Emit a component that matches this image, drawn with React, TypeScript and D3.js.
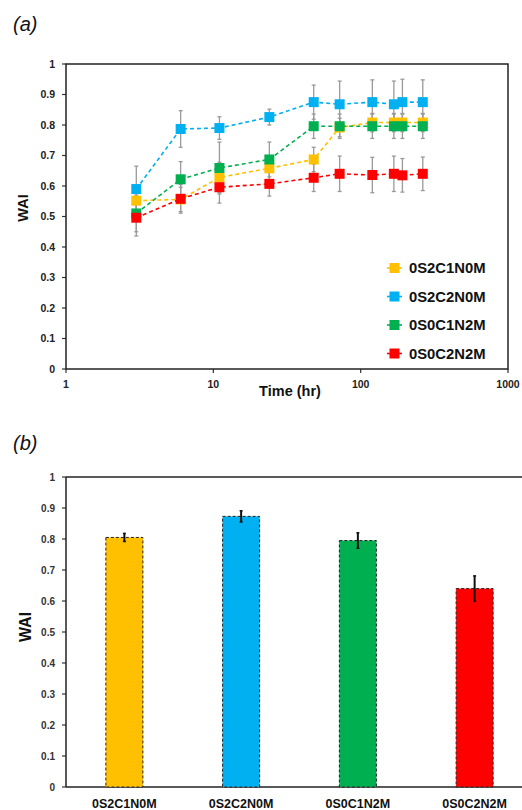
import React from "react";
import * as d3 from "d3";

// Time-course data (hours) for each formulation
const times = [3, 6, 11, 24, 48, 72, 120, 168, 192, 264];
const seriesNames = ["0S2C1N0M", "0S2C2N0M", "0S0C1N2M", "0S0C2N2M"];
const seriesColors = ["#FFC000", "#00B0F0", "#00B050", "#FF0000"];
const wai0S2C1N0M = [0.552, 0.556, 0.628, 0.658, 0.687, 0.792, 0.808, 0.808, 0.808, 0.808];
const wai0S2C2N0M = [0.59, 0.787, 0.79, 0.826, 0.875, 0.868, 0.875, 0.868, 0.875, 0.875];
const wai0S0C1N2M = [0.51, 0.622, 0.659, 0.687, 0.796, 0.796, 0.796, 0.796, 0.796, 0.796];
const wai0S0C2N2M = [0.496, 0.558, 0.596, 0.607, 0.627, 0.64, 0.636, 0.64, 0.635, 0.64];
const err0S2C1N0M = [0.05, 0.04, 0.05, 0.04, 0.04, 0.03, 0.03, 0.03, 0.03, 0.03];
const err0S2C2N0M = [0.075, 0.06, 0.037, 0.026, 0.056, 0.076, 0.073, 0.076, 0.075, 0.073];
const err0S0C1N2M = [0.06, 0.058, 0.085, 0.057, 0.04, 0.04, 0.04, 0.04, 0.04, 0.04];
const err0S0C2N2M = [0.06, 0.047, 0.052, 0.04, 0.045, 0.058, 0.058, 0.058, 0.055, 0.055];

// Final WAI values for the bar panel
const barValues = [0.805, 0.873, 0.795, 0.64];
const barErrors = [0.013, 0.018, 0.025, 0.041];

const yTicks = [0, 0.1, 0.2, 0.3, 0.4, 0.5, 0.6, 0.7, 0.8, 0.9, 1];
const xTicks = [1, 10, 100, 1000];

const FONT = "'Liberation Sans', Arial, sans-serif";

export default function App() {
  const values = [wai0S2C1N0M, wai0S2C2N0M, wai0S0C1N2M, wai0S0C2N2M];
  const errors = [err0S2C1N0M, err0S2C2N0M, err0S0C1N2M, err0S0C2N2M];

  // Panel (a)
  const ax = d3.scaleLog().domain([1, 1000]).range([66, 508]);
  const ay = d3.scaleLinear().domain([0, 1]).range([369, 64]);
  const line = d3
    .line<[number, number]>()
    .x((d) => ax(d[0]))
    .y((d) => ay(d[1]));

  // Panel (b)
  const bx = d3.scaleBand<string>().domain(seriesNames).range([66, 533]).paddingInner(0.683).paddingOuter(0.3415);
  const by = d3.scaleLinear().domain([0, 1]).range([787, 477]);

  const m = 10;

  return (
    <svg
      width={522}
      height={810}
      style={{ position: "absolute", left: 0, top: 0, background: "#fff" }}
      fontFamily={FONT}
    >
      <rect width={522} height={810} fill="#fff" />
      {/* ---------- (a) ---------- */}
      <text x={13} y={31} fontSize={20} fontStyle="italic" fill="#111">(a)</text>

      {yTicks.map((t) => (
        <g key={"ay" + t}>
          <line x1={62} x2={66} y1={ay(t)} y2={ay(t)} stroke="#333" strokeWidth={1.2} />
          <text x={55} y={ay(t) + 3.7} fontSize={10.5} fontWeight="bold" textAnchor="end" fill="#222">
            {t}
          </text>
        </g>
      ))}
      {xTicks.map((t) => (
        <g key={"ax" + t}>
          <line x1={ax(t)} x2={ax(t)} y1={369} y2={373} stroke="#333" strokeWidth={1.2} />
          <text x={ax(t)} y={388} fontSize={10.5} fontWeight="bold" textAnchor="middle" fill="#222">
            {t}
          </text>
        </g>
      ))}
      <rect x={66} y={64} width={442} height={305} fill="none" stroke="#222" strokeWidth={1.5} />
      <text
        transform={`translate(28,208) rotate(-90)`}
        fontSize={14.5}
        fontWeight="bold"
        textAnchor="middle"
        fill="#111"
      >
        WAI
      </text>
      <text x={290} y={396} fontSize={14.5} fontWeight="bold" textAnchor="middle" fill="#111">
        Time (hr)
      </text>

      {/* error bars */}
      {values.map((vals, si) =>
        vals.map((v, i) => {
          const e = errors[si][i];
          const x = ax(times[i]);
          return (
            <g key={`e${si}-${i}`} stroke="#9a9a9a" strokeWidth={1.3}>
              <line x1={x} x2={x} y1={ay(v + e)} y2={ay(v - e)} />
              <line x1={x - 2} x2={x + 2} y1={ay(v + e)} y2={ay(v + e)} />
              <line x1={x - 2} x2={x + 2} y1={ay(v - e)} y2={ay(v - e)} />
            </g>
          );
        })
      )}
      {/* dashed lines and square markers */}
      {values.map((vals, si) => (
        <g key={"s" + si}>
          <path
            d={line(vals.map((v, i) => [times[i], v] as [number, number])) || ""}
            fill="none"
            stroke={seriesColors[si]}
            strokeWidth={1.6}
            strokeDasharray="4,3"
          />
          {vals.map((v, i) => (
            <rect
              key={i}
              x={ax(times[i]) - m / 2}
              y={ay(v) - m / 2}
              width={m}
              height={m}
              fill={seriesColors[si]}
            />
          ))}
        </g>
      ))}

      {/* legend */}
      {seriesNames.map((n, i) => {
        const y = 268 + i * 28.5;
        return (
          <g key={"lg" + n}>
            <line x1={387} x2={402} y1={y} y2={y} stroke={seriesColors[i]} strokeWidth={1.6} />
            <rect x={389.5} y={y - 5} width={10} height={10} fill={seriesColors[i]} />
            <text x={409} y={y + 5.2} fontSize={14.8} fontWeight="bold" fill="#111">
              {n}
            </text>
          </g>
        );
      })}

      {/* ---------- (b) ---------- */}
      <text x={13} y={450} fontSize={20} fontStyle="italic" fill="#111">(b)</text>
      {yTicks.map((t) => (
        <g key={"by" + t}>
          <line x1={62} x2={66} y1={by(t)} y2={by(t)} stroke="#333" strokeWidth={1.2} />
          <text x={55} y={by(t) + 3.5} fontSize={10} fontWeight="bold" textAnchor="end" fill="#333">
            {t}
          </text>
        </g>
      ))}
      <line x1={66} x2={522} y1={477} y2={477} stroke="#222" strokeWidth={1.5} />
      <line x1={66} x2={66} y1={477} y2={787} stroke="#222" strokeWidth={1.5} />
      <line x1={66} x2={522} y1={787} y2={787} stroke="#222" strokeWidth={1.5} />
      <text
        transform={`translate(31,627) rotate(-90)`}
        fontSize={16}
        fontWeight="bold"
        textAnchor="middle"
        fill="#111"
      >
        WAI
      </text>
      {seriesNames.map((n, i) => {
        const x = bx(n)!;
        const w = bx.bandwidth();
        const v = barValues[i];
        const e = barErrors[i];
        const cx = x + w / 2;
        return (
          <g key={"bar" + n}>
            <rect
              x={x}
              y={by(v)}
              width={w}
              height={by(0) - by(v)}
              fill={seriesColors[i]}
              stroke="#222"
              strokeWidth={1}
              strokeDasharray="3,2"
            />
            <line x1={cx} x2={cx} y1={by(v + e)} y2={by(v - e)} stroke="#111" strokeWidth={2} />
            <line x1={cx - 1.5} x2={cx + 1.5} y1={by(v + e)} y2={by(v + e)} stroke="#111" strokeWidth={1.5} />
            <line x1={cx - 1.5} x2={cx + 1.5} y1={by(v - e)} y2={by(v - e)} stroke="#111" strokeWidth={1.5} />
            <text x={cx} y={808} fontSize={12.5} fontWeight="bold" textAnchor="middle" fill="#111">
              {n}
            </text>
          </g>
        );
      })}
    </svg>
  );
}
